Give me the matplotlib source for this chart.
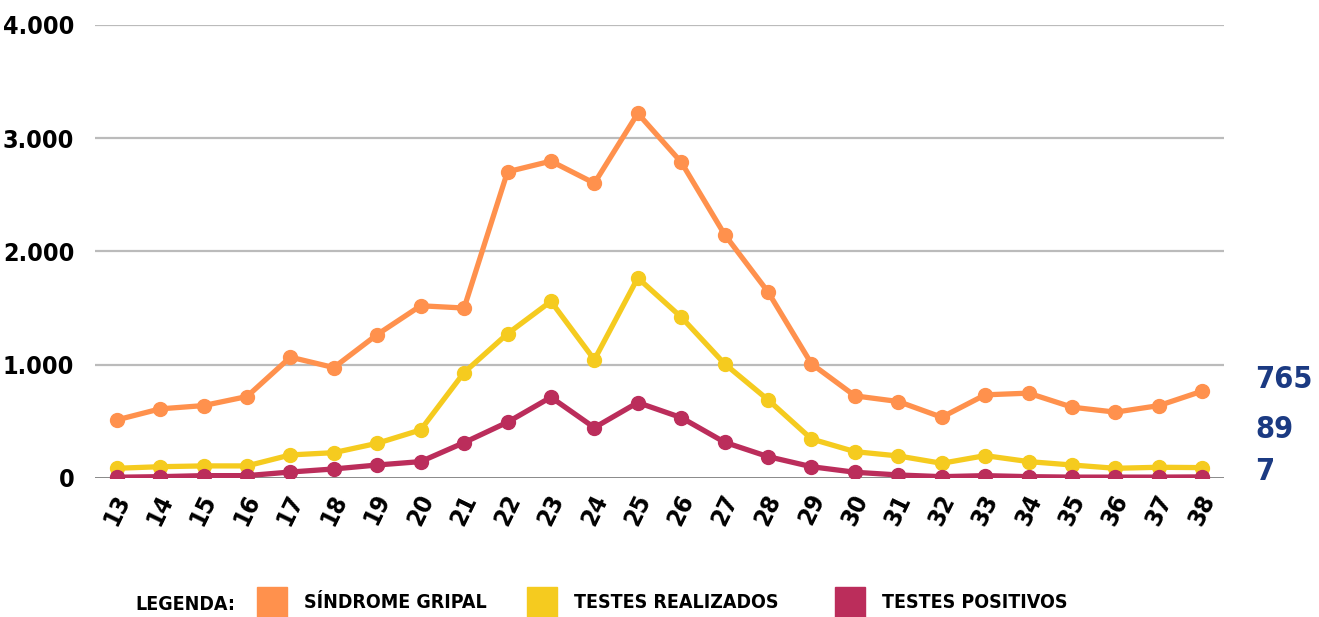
import matplotlib.pyplot as plt
from matplotlib.patches import Rectangle
from matplotlib import font_manager

# semanas epidemiologicas
semanas = list(range(13, 39))

sindrome_gripal = [510, 608, 637, 717, 1065, 973, 1265, 1519, 1499, 2703, 2797, 2602, 3219,
                   2788, 2148, 1641, 1006, 723, 673, 534, 732, 747, 623, 579, 637, 765]
testes_realizados = [83, 97, 104, 104, 201, 221, 304, 422, 929, 1272, 1558, 1042, 1765,
                     1419, 1006, 688, 342, 230, 192, 127, 195, 142, 112, 83, 92, 89]
testes_positivos = [4, 9, 18, 18, 50, 77, 112, 142, 310, 490, 711, 442, 664,
                    531, 313, 186, 97, 48, 24, 9, 18, 9, 5, 5, 5, 7]

y_ticks = [0, 1000, 2000, 3000, 4000]
y_tick_labels = ['0', '1.000', '2.000', '3.000', '4.000']
legend_labels = ['SÍNDROME GRIPAL', 'TESTES REALIZADOS', 'TESTES POSITIVOS']

cor_laranja = '#FF914D'
cor_amarelo = '#F5CB1F'
cor_vinho = '#BB2D5B'
cor_azul = '#1B3A82'

# procura uma fonte condensada em negrito, se houver
cond = None
for f in font_manager.fontManager.ttflist:
    fn = f.fname.lower()
    if ('condensed' in fn or 'narrow' in fn) and 'bold' in fn and 'oblique' not in fn \
            and 'italic' not in fn and 'semi' not in fn and 'extra' not in fn:
        cond = f.fname
        break
if cond:
    fp = font_manager.FontProperties(fname=cond)
else:
    fp = font_manager.FontProperties(family='DejaVu Sans', weight='bold')

fig = plt.figure(figsize=(13.19, 6.17), dpi=100)
ax = fig.add_axes([0.072, 0.2258, 0.856, 0.7337])

series = [sindrome_gripal, testes_realizados, testes_positivos]
cores = [cor_laranja, cor_amarelo, cor_vinho]
for vals, c in zip(series, cores):
    ax.plot(semanas, vals, color=c, lw=3.8, marker='o', ms=10, zorder=3)

ax.set_ylim(0, 4000)
ax.set_xlim(12.5, 38.5)
ax.set_yticks(y_ticks)
ax.set_yticklabels(y_tick_labels, fontproperties=fp, fontsize=18)
ax.set_xticks(semanas)
ax.set_xticklabels([str(s) for s in semanas], fontproperties=fp, fontsize=18,
                   rotation=64, ha='center', va='top')
ax.tick_params(length=0)
ax.tick_params(axis='y', pad=15)
ax.tick_params(axis='x', pad=9)

for v in y_ticks[1:]:
    ax.axhline(v, color='#BBBBBB', lw=1.6, zorder=1)
ax.axhline(0, color='#666666', lw=1.8, zorder=1)
for s in ax.spines.values():
    s.set_visible(False)

# valores finais a direita
ultimos = [sindrome_gripal[-1], testes_realizados[-1], testes_positivos[-1]]
offsets = [380, 430, 472]
for val, ypix in zip(ultimos, offsets):
    fig.text(1255 / 1319, 1 - ypix / 617, str(val), color=cor_azul, fontproperties=fp,
             fontsize=22, ha='left', va='center')

# legenda
fig.text(135 / 1319, 1 - 604 / 617, 'LEGENDA:', fontproperties=fp, fontsize=14,
         ha='left', va='center')
leg_x = [257, 527, 835]
for x, lab, c in zip(leg_x, legend_labels, cores):
    fig.patches.append(Rectangle((x / 1319, 0), 30 / 1319, 30 / 617,
                                 transform=fig.transFigure, color=c, clip_on=False))
    fig.text((x + 47) / 1319, 1 - 603 / 617, lab, fontproperties=fp, fontsize=14,
             ha='left', va='center')

fig.savefig('out.png', dpi=100)
